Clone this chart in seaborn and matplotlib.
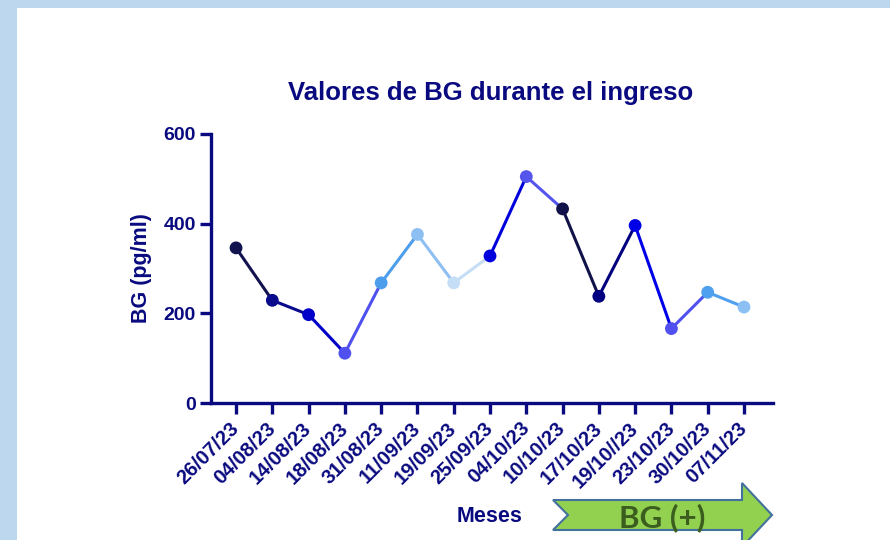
import numpy as np
import pandas as pd
import matplotlib
matplotlib.use("Agg")
import matplotlib.pyplot as plt
from matplotlib.patches import Rectangle, Polygon
import seaborn as sns


# valores
FECHAS = ["26/07/23", "04/08/23", "14/08/23", "18/08/23", "31/08/23",
          "11/09/23", "19/09/23", "25/09/23", "04/10/23", "10/10/23",
          "17/10/23", "19/10//23", "23/10/23", "30/10/23", "07/11/23"]
BG = [346, 229, 197, 111, 268, 376, 268, 328, 505, 433, 238, 396, 166, 247, 214]

# color de cada punto (el segmento toma el color del punto inicial)
COLORES = ["#12124F", "#0A0A8C", "#0000C8", "#5050EE", "#4C9EEC",
           "#8DBFF2", "#C5DDF5", "#0000DC", "#5555EE", "#12124A",
           "#000080", "#0000E6", "#5050EE", "#4FA0EE", "#8CC0F5"]

NAVY = "#0A0A80"
W, H = 890, 540


def fx(px):
    return px / W


def fy(py):
    return 1 - py / H


sns.set_theme(style="ticks")
plt.rcParams["font.family"] = ["Liberation Sans", "DejaVu Sans"]
plt.rcParams["font.weight"] = "bold"

fig = plt.figure(figsize=(8.9, 5.4), dpi=100)
fig.patch.set_facecolor("#BDD7EE")
fig.patches.append(Rectangle((fx(17), 0), 1 - fx(17), fy(8), transform=fig.transFigure,
                             facecolor="white", edgecolor="none", zorder=-5))

ax = fig.add_axes([fx(211), fy(403), fx(773 - 211), (403 - 134) / H])
ax.set_facecolor("none")

pos = np.arange(len(BG))

# segmentos: cada par de puntos consecutivos con su propio color
rows = []
for i in range(len(BG) - 1):
    rows.append({"x": pos[i], "y": BG[i], "seg": str(i)})
    rows.append({"x": pos[i + 1], "y": BG[i + 1], "seg": str(i)})
segs = pd.DataFrame(rows)

sns.lineplot(data=segs, x="x", y="y", hue="seg", palette=COLORES[:-1],
             linewidth=2.2, legend=False, sort=False, estimator=None, ax=ax)
sns.scatterplot(x=pos, y=BG, hue=[str(i) for i in pos], palette=COLORES,
                s=85, linewidth=0, legend=False, zorder=3, ax=ax)

ax.set_xlim(-0.69, 14.8)
ax.set_ylim(0, 600)
ax.set_yticks([0, 200, 400, 600])
ax.set_xticks(pos)
ax.set_xticklabels(FECHAS, rotation=45, ha="right", va="center", rotation_mode="anchor")
ax.set_xlabel("")
ax.set_ylabel("")

for side in ["top", "right"]:
    ax.spines[side].set_visible(False)
for side in ["left", "bottom"]:
    ax.spines[side].set_color(NAVY)
    ax.spines[side].set_linewidth(2.4)
ax.spines["left"].set_bounds(0, 600)

ax.tick_params(axis="both", colors=NAVY, width=2.4, length=8)
ax.tick_params(axis="x", pad=8, labelsize=14.5)
ax.tick_params(axis="y", pad=3, labelsize=14)

fig.text(fx(491), fy(100), "Valores de BG durante el ingreso", ha="center",
         va="baseline", fontsize=18.5, color=NAVY, fontweight="bold")
fig.text(fx(142), fy(268), "BG (pg/ml)", ha="center", va="center", rotation=90,
         fontsize=15.5, color=NAVY, fontweight="bold")
fig.text(fx(490), fy(517), "Meses", ha="center", va="center",
         fontsize=15.5, color=NAVY, fontweight="bold")

# flecha verde
flecha = [(553, 500), (742, 500), (742, 483), (772, 515), (742, 547),
          (742, 530), (553, 530), (568, 515)]
fig.patches.append(Polygon([(fx(a), fy(b)) for a, b in flecha], closed=True,
                           transform=fig.transFigure, facecolor="#92D050",
                           edgecolor="#41719C", linewidth=1.5, zorder=2))
fig.text(fx(662), fy(518), "BG (+)", ha="center", va="center", fontsize=22.5,
         color="#3B5E1F", family=["Lato", "DejaVu Sans"], fontweight="bold", zorder=3)

fig.savefig("out.png", dpi=100)
